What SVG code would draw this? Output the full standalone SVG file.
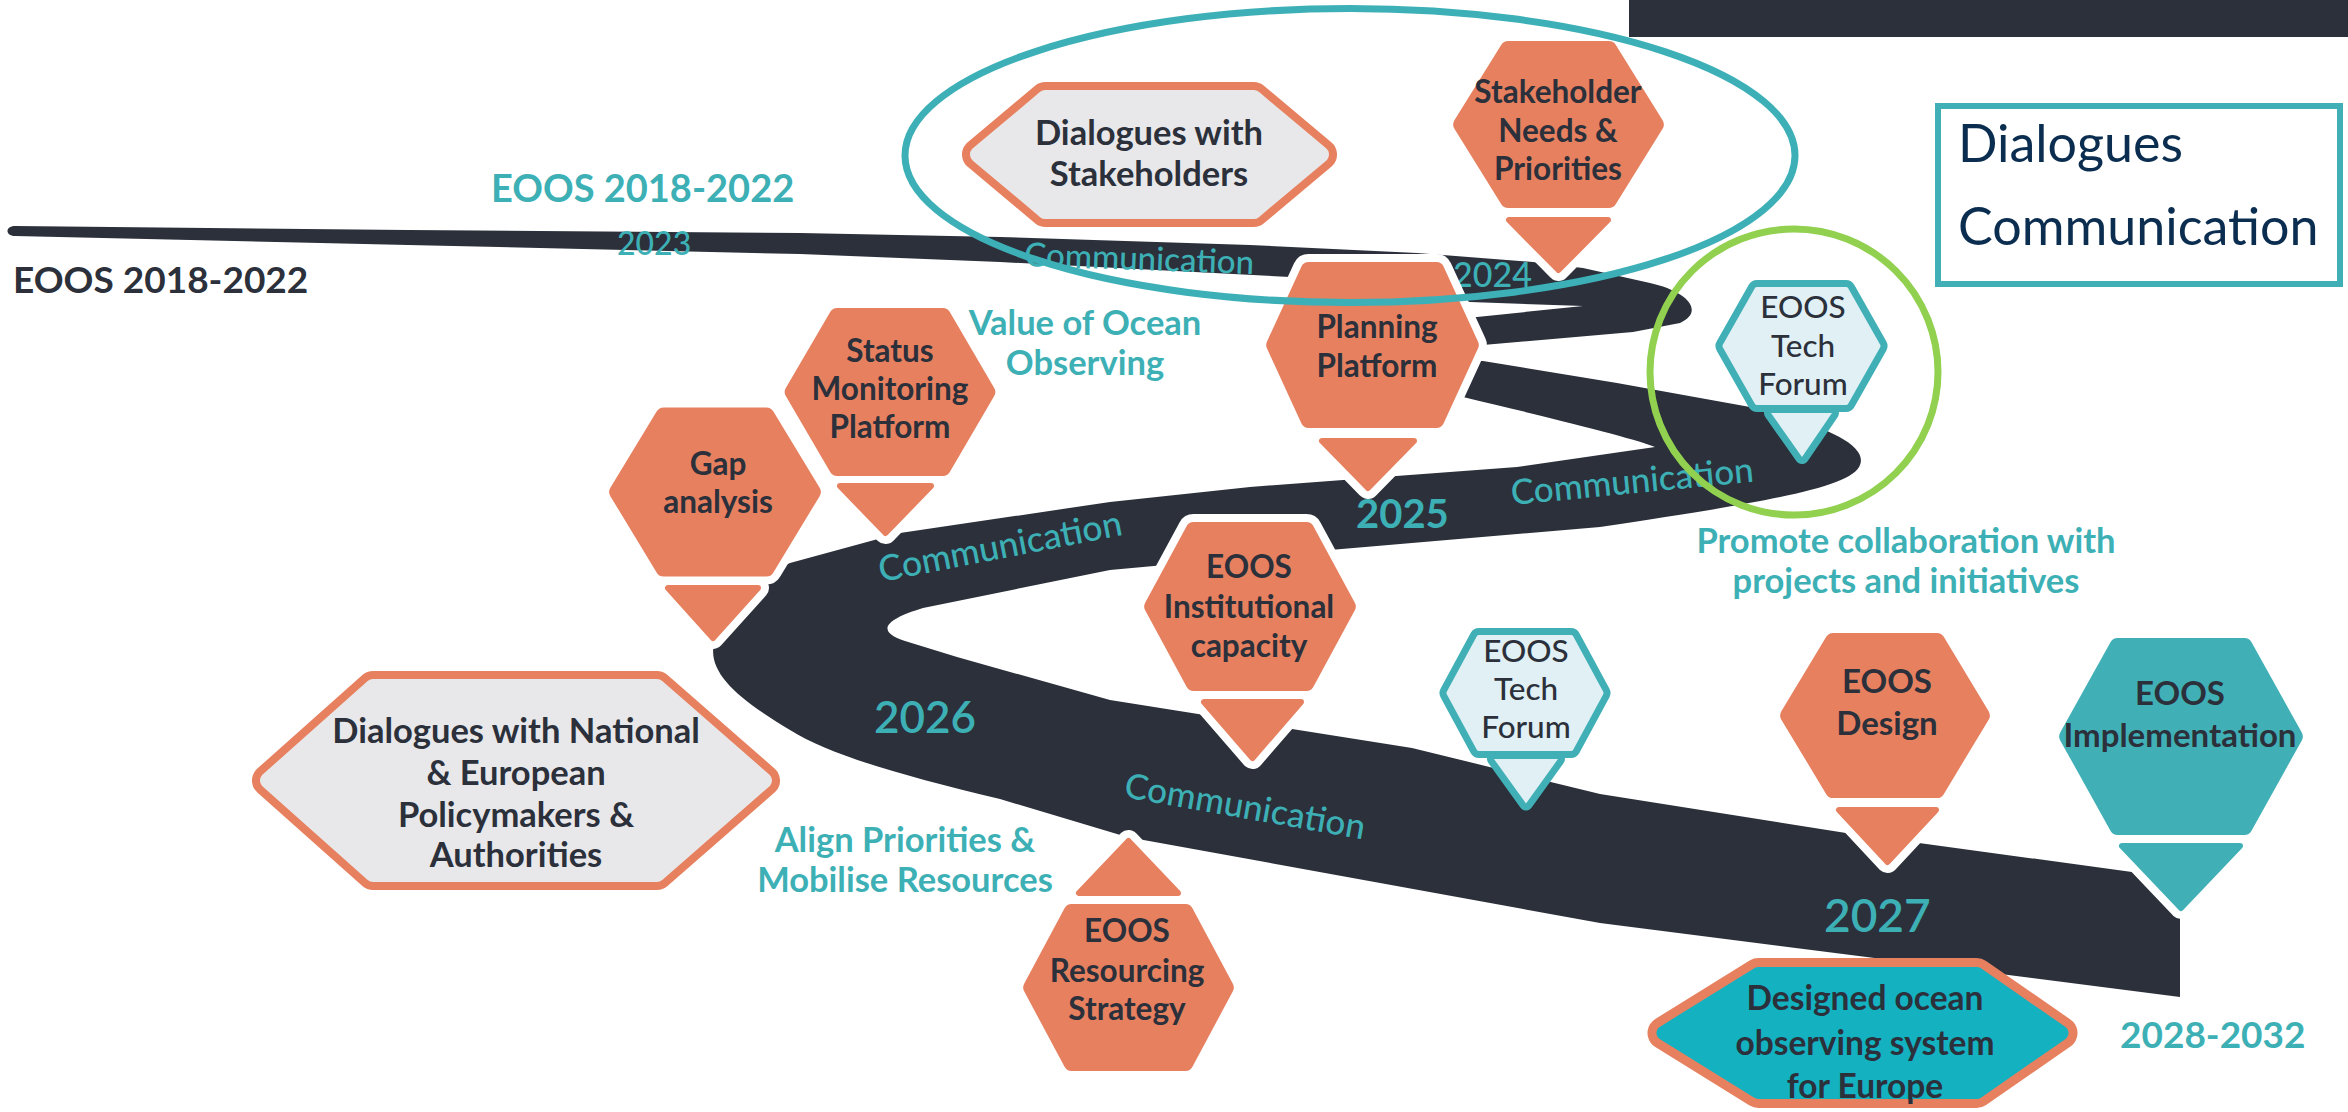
<svg xmlns="http://www.w3.org/2000/svg" width="2348" height="1112" viewBox="0 0 2348 1112">
<style>
.road{fill:#2b303b}
.halo{fill:none;stroke:#fff;stroke-linejoin:round}
.hx{stroke-linejoin:round;stroke-width:16}
.pt{stroke-linejoin:round;stroke-width:6}
.or{fill:#e7805f;stroke:#e7805f}
.tl{fill:#40b0b6;stroke:#40b0b6}
.node{font-family:Lato,"Liberation Sans",sans-serif;font-weight:700;fill:#2b303b;text-anchor:middle;font-size:31.5px}
.tech{font-family:Lato,"Liberation Sans",sans-serif;font-weight:500;fill:#2b303b;text-anchor:middle;font-size:31.5px}
.lbl{font-family:Lato,"Liberation Sans",sans-serif;font-weight:700;fill:#3db0b6}
.mid{text-anchor:middle}
.com{font-family:Lato,"Liberation Sans",sans-serif;font-weight:500;fill:#3db0b6}
</style>
<rect width="2348" height="1112" fill="#fff"/>
<rect x="1629" y="0" width="719" height="37" fill="#2b303b"/>

<g id="road">
<path class="road" d="M 15,226 L 408,230 L 800,233 L 1000,237 L 1250,245 L 1417,253 L 1533,262 L 1583,268 L 1650,283 C 1690,292 1704,312 1680,323 L 1633,332 L 1483,345 L 1420,350 Q 1392,354 1420,359 L 1483,361 L 1617,383 L 1750,407 C 1825,425 1868,445 1860,465 C 1852,488 1760,503 1600,527 L 1330,550 L 1110,570 L 923,608 C 890,618 872,630 905,641 L 957,657 L 1110,700 L 1412,748 L 1600,794 L 1846,833 L 2132,872 L 2180,878 L 2180,997 L 1600,923 L 1127,837 L 1000,799 C 900,775 830,755 790,730 C 735,697 705,670 715,640 C 730,600 760,575 790,563 L 900,533 L 1110,502 L 1250,487 L 1383,477 L 1517,467 L 1655,447 C 1640,440 1560,420 1463,397 L 1380,385 C 1320,378 1310,330 1370,322 L 1477,317 L 1583,306 L 1470,302 L 1290,277 L 1000,262 L 800,254 L 408,245 L 15,236 C 5,236 5,226 15,226 Z"/>
<text class="com" x="1024" y="266" style="font-size:33px" transform="rotate(2 1024 266)">Communication</text>
<text class="com" x="1512" y="505" style="font-size:35px" transform="rotate(-5.5 1512 505)">Communication</text>
<text class="com" x="881" y="582" style="font-size:35.5px" transform="rotate(-11 881 582)">Communication</text>
<text class="com" x="1123" y="797" style="font-size:35px" transform="rotate(10 1123 797)">Communication</text>
</g>

<g id="labels">
<text class="lbl" x="491" y="202" style="font-size:38px">EOOS 2018-2022</text>
<text class="lbl" x="617" y="255" style="font-size:32px;font-weight:500">2023</text>
<text x="13" y="293" font-family="Lato,'Liberation Sans',sans-serif" font-weight="700" font-size="37" fill="#2b303b">EOOS 2018-2022</text>
<text class="lbl" x="1453" y="287" style="font-size:34px;font-weight:500">2024</text>
<text class="lbl mid" x="1085" y="335" style="font-size:34.5px">Value of Ocean</text>
<text class="lbl mid" x="1085" y="375" style="font-size:34.5px">Observing</text>
<text class="lbl" x="1356" y="528" style="font-size:40px">2025</text>
<text class="lbl mid" x="1906" y="553" style="font-size:34.5px">Promote collaboration with</text>
<text class="lbl mid" x="1906" y="593" style="font-size:34.5px">projects and initiatives</text>
<text class="lbl" x="874" y="733" style="font-size:44px;font-weight:600">2026</text>
<text class="lbl mid" x="905" y="852" style="font-size:34.5px">Align Priorities &amp;</text>
<text class="lbl mid" x="905" y="892" style="font-size:34.5px">Mobilise Resources</text>
<text class="lbl" x="1824" y="932" style="font-size:46px;font-weight:600">2027</text>
<text class="lbl" x="2120" y="1048" style="font-size:37px">2028-2032</text>
</g>

<g id="gap-analysis">
<polygon class="halo" stroke-width="32" points="617.2,492 663.6,415.5 766.4,415.5 812.8,492 766.4,568.5 663.6,568.5"/>
<polygon class="halo" stroke-width="22" points="668,588 758,588 713,638"/>
<polygon class="or hx" points="617.2,492 663.6,415.5 766.4,415.5 812.8,492 766.4,568.5 663.6,568.5"/>
<polygon class="or pt" points="668,588 758,588 713,638"/>
<text class="node" x="718" y="475">Gap</text>
<text class="node" x="718" y="513">analysis</text>
</g>

<g id="status-monitoring">
<polygon class="halo" stroke-width="32" points="792.7,392 837.1,316 942.9,316 987.3,392 942.9,468 837.1,468"/>
<polygon class="halo" stroke-width="22" points="840,486 931,486 885.5,533"/>
<polygon class="or hx" points="792.7,392 837.1,316 942.9,316 987.3,392 942.9,468 837.1,468"/>
<polygon class="or pt" points="840,486 931,486 885.5,533"/>
<text class="node" x="890" y="362">Status</text>
<text class="node" x="890" y="400">Monitoring</text>
<text class="node" x="890" y="438">Platform</text>
</g>

<g id="planning-platform">
<polygon class="halo" stroke-width="32" points="1274.2,345 1308.6,270 1436.4,270 1470.8,345 1436.4,420 1308.6,420"/>
<polygon class="halo" stroke-width="22" points="1322,441 1414,441 1368,488"/>
<polygon class="or hx" points="1274.2,345 1308.6,270 1436.4,270 1470.8,345 1436.4,420 1308.6,420"/>
<polygon class="or pt" points="1322,441 1414,441 1368,488"/>
<text class="node" x="1377" y="338">Planning</text>
<text class="node" x="1377" y="377">Platform</text>
</g>

<g id="stakeholder-needs">
<polygon class="halo" stroke-width="32" points="1461.2,124.5 1508.1,49 1608.9,49 1655.8,124.5 1608.9,200 1508.1,200"/>
<polygon class="halo" stroke-width="22" points="1509,220 1608,220 1558.5,270"/>
<polygon class="or hx" points="1461.2,124.5 1508.1,49 1608.9,49 1655.8,124.5 1608.9,200 1508.1,200"/>
<polygon class="or pt" points="1509,220 1608,220 1558.5,270"/>
<text class="node" x="1558" y="103">Stakeholder</text>
<text class="node" x="1558" y="142">Needs &amp;</text>
<text class="node" x="1558" y="180">Priorities</text>
</g>

<g id="institutional-capacity">
<polygon class="halo" stroke-width="32" points="1152.2,606.5 1193.6,530 1306.4,530 1347.8,606.5 1306.4,683 1193.6,683"/>
<polygon class="halo" stroke-width="22" points="1204,702 1301,702 1252.5,758"/>
<polygon class="or hx" points="1152.2,606.5 1193.6,530 1306.4,530 1347.8,606.5 1306.4,683 1193.6,683"/>
<polygon class="or pt" points="1204,702 1301,702 1252.5,758"/>
<text class="node" x="1249" y="578">EOOS</text>
<text class="node" x="1249" y="618">Institutional</text>
<text class="node" x="1249" y="657">capacity</text>
</g>

<g id="resourcing-strategy">
<polygon class="halo" stroke-width="32" points="1031.2,987.5 1071.6,912 1185.4,912 1225.8,987.5 1185.4,1063 1071.6,1063"/>
<polygon class="halo" stroke-width="22" points="1079,893 1178,893 1128.5,841"/>
<polygon class="or hx" points="1031.2,987.5 1071.6,912 1185.4,912 1225.8,987.5 1185.4,1063 1071.6,1063"/>
<polygon class="or pt" points="1079,893 1178,893 1128.5,841"/>
<text class="node" x="1127" y="942">EOOS</text>
<text class="node" x="1127" y="982">Resourcing</text>
<text class="node" x="1127" y="1020">Strategy</text>
</g>

<g id="eoos-design">
<polygon class="halo" stroke-width="32" points="1788.2,715.5 1833.1,641 1936.9,641 1981.8,715.5 1936.9,790 1833.1,790"/>
<polygon class="halo" stroke-width="22" points="1839,810 1936,810 1887.5,862"/>
<polygon class="or hx" points="1788.2,715.5 1833.1,641 1936.9,641 1981.8,715.5 1936.9,790 1833.1,790"/>
<polygon class="or pt" points="1839,810 1936,810 1887.5,862"/>
<text class="node" x="1887" y="693" style="font-size:33px">EOOS</text>
<text class="node" x="1887" y="735" style="font-size:33px">Design</text>
</g>

<g id="eoos-implementation">
<polygon class="halo" stroke-width="32" points="2067.2,736.5 2117.6,646 2244.4,646 2294.8,736.5 2244.4,827 2117.6,827"/>
<polygon class="halo" stroke-width="22" points="2122,846 2240,846 2181,908"/>
<polygon class="tl hx" points="2067.2,736.5 2117.6,646 2244.4,646 2294.8,736.5 2244.4,827 2117.6,827"/>
<polygon class="tl pt" points="2122,846 2240,846 2181,908"/>
<text class="node" x="2180" y="705" style="font-size:33px">EOOS</text>
<text class="node" x="2180" y="747" style="font-size:33px">Implementation</text>
</g>

<g id="tech-forum-1">
<polygon fill="#40b0b6" stroke="#40b0b6" stroke-width="14" stroke-linejoin="round" points="1771,413 1832,413 1802,457"/>
<polygon fill="#e0f0f4" points="1771,413 1832,413 1802,457"/>
<polygon fill="none" stroke="#40b0b6" stroke-width="19" stroke-linejoin="round" points="1725,346 1757,289.5 1846,289.5 1878,346 1846,402.5 1757,402.5"/>
<polygon fill="#e0f0f4" stroke="#e0f0f4" stroke-width="5" stroke-linejoin="round" points="1725,346 1757,289.5 1846,289.5 1878,346 1846,402.5 1757,402.5"/>
<text class="tech" x="1803" y="318">EOOS</text>
<text class="tech" x="1803" y="357">Tech</text>
<text class="tech" x="1803" y="395">Forum</text>
</g>

<g id="tech-forum-2">
<polygon fill="#40b0b6" stroke="#40b0b6" stroke-width="14" stroke-linejoin="round" points="1494,759 1558,759 1526,803.5"/>
<polygon fill="#e0f0f4" points="1494,759 1558,759 1526,803.5"/>
<polygon fill="none" stroke="#40b0b6" stroke-width="19" stroke-linejoin="round" points="1449,693 1479,637.5 1571,637.5 1601,693 1571,748.5 1479,748.5"/>
<polygon fill="#e0f0f4" stroke="#e0f0f4" stroke-width="5" stroke-linejoin="round" points="1449,693 1479,637.5 1571,637.5 1601,693 1571,748.5 1479,748.5"/>
<text class="tech" x="1526" y="662">EOOS</text>
<text class="tech" x="1526" y="700">Tech</text>
<text class="tech" x="1526" y="738">Forum</text>
</g>

<g id="dialogues-stakeholders">
<polygon fill="none" stroke="#e7805f" stroke-width="32" stroke-linejoin="round" points="978,154.5 1045.3,98 1253.7,98 1321,154.5 1253.7,211 1045.3,211"/>
<polygon fill="#e8e8ea" stroke="#e8e8ea" stroke-width="16" stroke-linejoin="round" points="978,154.5 1045.3,98 1253.7,98 1321,154.5 1253.7,211 1045.3,211"/>
<text class="node" x="1149" y="145" style="font-size:34.5px">Dialogues with</text>
<text class="node" x="1149" y="186" style="font-size:34.5px">Stakeholders</text>
</g>

<g id="dialogues-national">
<polygon fill="none" stroke="#e7805f" stroke-width="32" stroke-linejoin="round" points="268,780.5 373,687 657,687 764,780.5 657,874 373,874"/>
<polygon fill="#e8e8ea" stroke="#e8e8ea" stroke-width="16" stroke-linejoin="round" points="268,780.5 373,687 657,687 764,780.5 657,874 373,874"/>
<text class="node" x="516" y="743" style="font-size:34.5px">Dialogues with National</text>
<text class="node" x="516" y="785" style="font-size:34.5px">&amp; European</text>
<text class="node" x="516" y="827" style="font-size:34.5px">Policymakers &amp;</text>
<text class="node" x="516" y="867" style="font-size:34.5px">Authorities</text>
</g>

<g id="designed-ocean">
<polygon fill="none" stroke="#e7805f" stroke-width="33" stroke-linejoin="round" points="1664,1033 1758.3,974.5 1976.7,974.5 2061,1033 1976.7,1091.5 1758.3,1091.5"/>
<polygon fill="#14b1c1" stroke="#14b1c1" stroke-width="15" stroke-linejoin="round" points="1664,1033 1758.3,974.5 1976.7,974.5 2061,1033 1976.7,1091.5 1758.3,1091.5"/>
<text class="node" x="1865" y="1010" style="font-size:33.5px">Designed ocean</text>
<text class="node" x="1865" y="1055" style="font-size:33.5px">observing system</text>
<text class="node" x="1865" y="1098" style="font-size:33.5px">for Europe</text>
</g>

<g id="legend">
<rect x="1938" y="106" width="402" height="178" fill="#fff" stroke="#40b0b6" stroke-width="6"/>
<text x="1958" y="162" font-family="Lato,'Liberation Sans',sans-serif" font-size="52" fill="#0b2d4f">Dialogues</text>
<text x="1958" y="245" font-family="Lato,'Liberation Sans',sans-serif" font-size="52" fill="#0b2d4f">Communication</text>
</g>

<g id="highlights">
<ellipse cx="1350" cy="155.5" rx="445" ry="147" fill="none" stroke="#3db0b7" stroke-width="7"/>
<ellipse cx="1794" cy="372" rx="144" ry="143" fill="none" stroke="#92d050" stroke-width="7"/>
</g>
</svg>
